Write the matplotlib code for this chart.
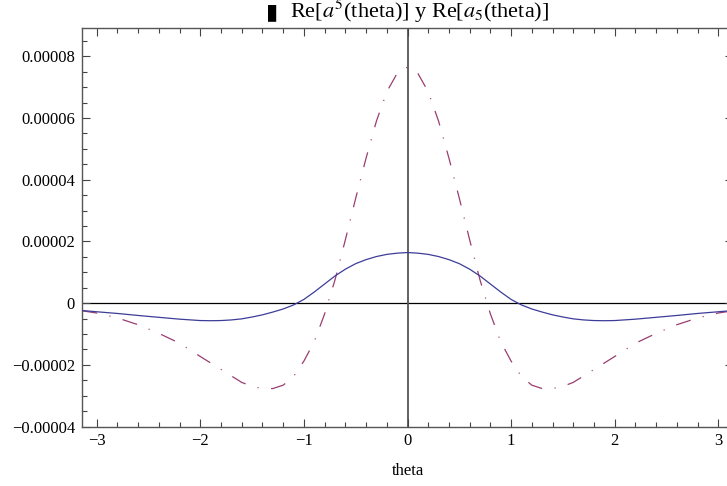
import numpy as np
import matplotlib
matplotlib.use("Agg")
import matplotlib.pyplot as plt
from matplotlib.ticker import FixedLocator, FixedFormatter, MultipleLocator

plt.rcParams['font.family'] = ['Liberation Serif', 'DejaVu Serif', 'DejaVu Sans']
plt.rcParams['mathtext.fontset'] = 'stix'
plt.rcParams['lines.scale_dashes'] = False

# datos
theta = [-3.14, -3.0, -2.8, -2.6, -2.4, -2.2, -2.0, -1.9, -1.8, -1.7, -1.6, -1.5, -1.4,
         -1.3, -1.2, -1.1, -1.0, -0.9, -0.8, -0.7, -0.6, -0.5, -0.4, -0.3, -0.2, -0.1,
         0.0,
         0.1, 0.2, 0.3, 0.4, 0.5, 0.6, 0.7, 0.8, 0.9, 1.0, 1.1, 1.2, 1.3,
         1.4, 1.5, 1.6, 1.7, 1.8, 1.9, 2.0, 2.2, 2.4, 2.6, 2.8, 3.0, 3.14]

re_a5_sup = [-0.25e-5, -0.32e-5, -0.48e-5, -0.70e-5, -0.98e-5, -1.30e-5, -1.73e-5, -1.94e-5,
             -2.15e-5, -2.36e-5, -2.57e-5, -2.70e-5, -2.77e-5, -2.77e-5, -2.66e-5, -2.38e-5,
             -1.88e-5, -1.25e-5, -0.35e-5, 0.75e-5, 2.05e-5, 3.40e-5, 4.70e-5, 5.90e-5,
             6.85e-5, 7.45e-5,
             7.65e-5,
             7.45e-5, 6.85e-5, 5.90e-5, 4.70e-5, 3.40e-5, 2.05e-5, 0.75e-5, -0.35e-5,
             -1.25e-5, -1.88e-5, -2.38e-5, -2.66e-5, -2.77e-5, -2.77e-5, -2.70e-5, -2.57e-5,
             -2.36e-5, -2.15e-5, -1.94e-5, -1.73e-5, -1.30e-5, -0.98e-5, -0.70e-5, -0.48e-5,
             -0.32e-5, -0.25e-5]

re_a5_sub = [-0.24e-5, -0.28e-5, -0.335e-5, -0.40e-5, -0.46e-5, -0.52e-5, -0.565e-5, -0.57e-5,
             -0.565e-5, -0.545e-5, -0.51e-5, -0.45e-5, -0.38e-5, -0.29e-5, -0.19e-5, -0.06e-5,
             0.12e-5, 0.36e-5, 0.62e-5, 0.88e-5, 1.10e-5, 1.28e-5, 1.41e-5, 1.51e-5,
             1.58e-5, 1.62e-5,
             1.64e-5,
             1.62e-5, 1.58e-5, 1.51e-5, 1.41e-5, 1.28e-5, 1.10e-5, 0.88e-5, 0.62e-5,
             0.36e-5, 0.12e-5, -0.06e-5, -0.19e-5, -0.29e-5, -0.38e-5, -0.45e-5, -0.51e-5,
             -0.545e-5, -0.565e-5, -0.57e-5, -0.565e-5, -0.52e-5, -0.46e-5, -0.40e-5, -0.335e-5,
             -0.28e-5, -0.24e-5]

xticks = [-3, -2, -1, 0, 1, 2, 3]
xlabels = ['\u22123', '\u22122', '\u22121', '0', '1', '2', '3']
yticks = [-0.00004, -0.00002, 0, 0.00002, 0.00004, 0.00006, 0.00008]
ylabels = ['\u22120.00004', '\u22120.00002', '0', '0.00002', '0.00004', '0.00006', '0.00008']

fig = plt.figure(figsize=(7.27, 4.86), dpi=100)
ax = fig.add_axes([82 / 727, (486 - 426.5) / 486, 651 / 727, 398.5 / 486])

ax.axhline(0, color='black', lw=0.9, zorder=1)
ax.axvline(0, color='#555555', lw=1.3, zorder=1)

red, = ax.plot(theta, re_a5_sup, color=(0.6, 0.24, 0.44), lw=0.9, zorder=2)
red.set_dashes([11, 9, 0.8, 9])
ax.plot(theta, re_a5_sub, color=(0.24, 0.24, 0.6), lw=0.9, zorder=3)

ax.set_xlim(-np.pi, np.pi)
ax.set_ylim(-0.00004, 0.0000892)

ax.xaxis.set_major_locator(FixedLocator(xticks))
ax.xaxis.set_major_formatter(FixedFormatter(xlabels))
ax.xaxis.set_minor_locator(MultipleLocator(0.2))
ax.yaxis.set_major_locator(FixedLocator(yticks))
ax.yaxis.set_major_formatter(FixedFormatter(ylabels))
ax.yaxis.set_minor_locator(MultipleLocator(0.000005))

ax.tick_params(which='both', direction='in', top=True, right=True, color='#444444',
               labelsize=12, width=0.8)
ax.tick_params(which='major', length=5.5, pad=5)
ax.tick_params(which='minor', length=3.5)
for s in ax.spines.values():
    s.set_color('#555555')
    s.set_linewidth(1.0)

ax.set_xlabel('theta', fontsize=12, labelpad=10)

# el titulo queda recortado arriba como en la original
fig.text(0.366, 0.962, '\u25AE', fontsize=16, ha='left', va='baseline',
         family=['DejaVu Sans'])
fig.text(0.399, 0.962, r'Re[$a^5$(theta)] y Re[$a_5$(theta)]', fontsize=16,
         ha='left', va='baseline')

fig.savefig('out.png', dpi=100)
